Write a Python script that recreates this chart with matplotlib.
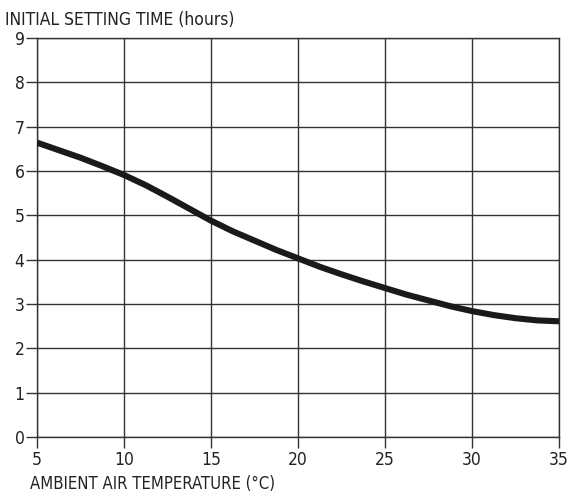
import matplotlib
matplotlib.use("Agg")
import matplotlib.pyplot as plt

# temperature (°C) vs initial setting time (hours)
temp = [5, 6.25, 7.5, 8.75, 10, 11.25, 12.5, 13.75, 15, 16.25, 17.5, 18.75, 20,
        21.25, 22.5, 23.75, 25, 26.25, 27.5, 28.75, 30, 31.25, 32.5, 33.75, 35]
hours = [6.64, 6.47, 6.30, 6.11, 5.91, 5.68, 5.42, 5.15, 4.88, 4.64, 4.43, 4.22, 4.03,
         3.84, 3.67, 3.51, 3.36, 3.21, 3.08, 2.95, 2.84, 2.75, 2.68, 2.63, 2.61]

xticks = [5, 10, 15, 20, 25, 30, 35]
yticks = [0, 1, 2, 3, 4, 5, 6, 7, 8, 9]

plt.rcParams['font.family'] = ['DejaVu Sans']
plt.rcParams['font.stretch'] = 'condensed'

fig = plt.figure(figsize=(5.69, 4.99), dpi=100)
ax = fig.add_axes([37 / 569, 1 - 437 / 499, 522 / 569, 399 / 499])

ax.plot(temp, hours, color='#1a1a1a', lw=4.4, solid_capstyle='butt', zorder=3)

ax.set_xlim(5, 35)
ax.set_ylim(0, 9)
ax.set_xticks(xticks)
ax.set_yticks(yticks)
ax.grid(True, color='#333333', lw=1.0)
for s in ax.spines.values():
    s.set_color('#333333')
    s.set_linewidth(1.0)
ax.tick_params(axis='both', length=8, width=1.0, color='#333333', labelsize=12.5,
               labelcolor='#222222', pad=1)
ax.tick_params(axis='x', pad=2)

fig.text(5 / 569, 1 - 20 / 499, "INITIAL SETTING TIME (hours)", fontsize=12.5,
         color='#222222', va='center', ha='left')
fig.text(30 / 569, 1 - 484 / 499, "AMBIENT AIR TEMPERATURE (°C)", fontsize=12,
         color='#222222', va='center', ha='left')

fig.savefig("out.png", dpi=100)
